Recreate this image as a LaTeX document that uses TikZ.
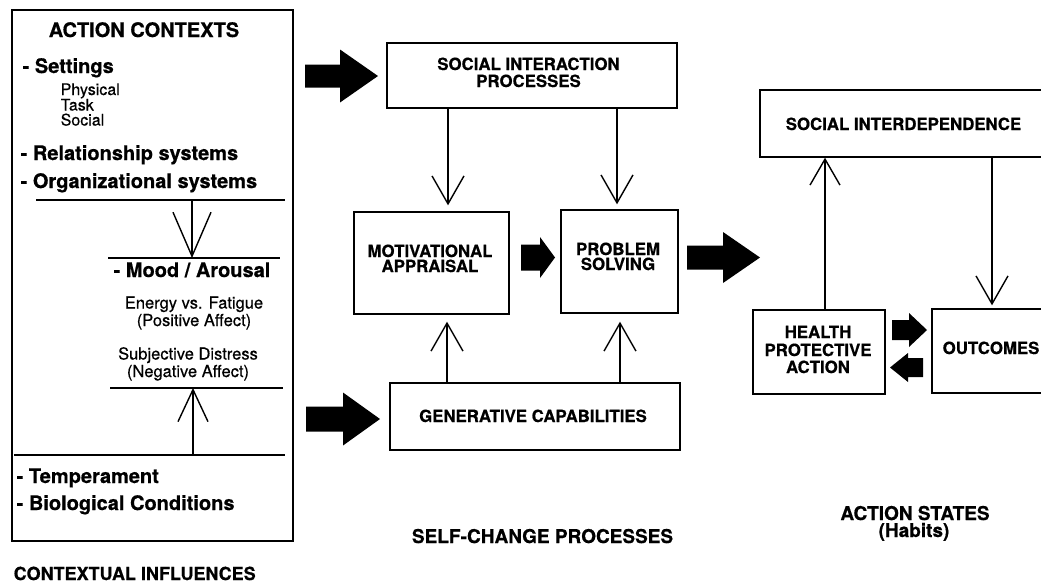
\documentclass[tikz,border=0pt]{standalone}
\usepackage{fontspec}
\setmainfont{TeX Gyre Heros}[BoldFeatures={FakeBold=0.6}]
\newfontfamily\medfont{TeX Gyre Heros}[FakeBold=0.5]
\usetikzlibrary{arrows.meta,calc}
\newcommand\fatarrow[6]{% x-start, x-head, x-tip, y-centre, body half, head half
  \fill (#1,#4-#5) -- (#2,#4-#5) -- (#2,#4-#6) -- (#3,#4) -- (#2,#4+#6) -- (#2,#4+#5) -- (#1,#4+#5) -- cycle;}
\begin{document}
\begin{tikzpicture}[x=1pt,y=-1pt,line width=1.4pt,
  box/.style={draw,rectangle,inner sep=0pt,line width=1.4pt},
  btxt/.style={font=\fontsize{16.8}{17}\selectfont\bfseries,inner sep=0pt,anchor=base},
  bul/.style={font=\fontsize{20}{20}\selectfont\bfseries,inner sep=0pt,anchor=base west},
  subitem/.style={font=\fontsize{16}{16}\selectfont\medfont,inner sep=0pt,anchor=base west},
  reg/.style={font=\fontsize{16.5}{16.5}\selectfont\medfont,inner sep=0pt,anchor=base},
  bottomlab/.style={font=\fontsize{19}{19}\selectfont\bfseries,inner sep=0pt,anchor=base},
  tarrow/.style={-{Straight Barb[length=28pt,width=32pt]},line width=1.4pt},
  tarrowbig/.style={-{Straight Barb[length=44pt,width=38pt]},line width=1.4pt},
  tarrowmid/.style={-{Straight Barb[length=32pt,width=30pt]},line width=1.4pt}]
\useasboundingbox (0,0) rectangle (1041,582);

% ---------- left box: contextual influences ----------
\node[box,minimum width=281pt,minimum height=531pt] (ctx) at (152.5,275.5) {};
\node[font=\fontsize{20}{20}\selectfont\bfseries,inner sep=0pt,anchor=base] (ctxt) at (144,37) {ACTION CONTEXTS};
\node[bul] (set) at (22,73) {- Settings};
\node[subitem] (phy) at (60,95) {Physical};
\node[subitem] (task) at (60,110.5) {Task};
\node[subitem] (soc) at (60,125.5) {Social};
\node[bul] (rel) at (20,160) {- Relationship systems};
\node[bul] (org) at (20,188) {- Organizational systems};
\coordinate (l1a) at (36,200);  \coordinate (l1b) at (285,200);
\coordinate (l2a) at (108,258); \coordinate (l2b) at (280,258);
\coordinate (l3a) at (110,388); \coordinate (l3b) at (283,388);
\coordinate (l4a) at (14,455);  \coordinate (l4b) at (285,455);
\draw (l1a) -- (l1b);
\draw (l2a) -- (l2b);
\draw (l3a) -- (l3b);
\draw (l4a) -- (l4b);
\coordinate (da) at (192,200); \coordinate (db) at (192,258);
\draw[tarrowbig] (da) -- (db);
\node[bul,anchor=base] (mood) at (192,277) {- Mood / Arousal};
\node[reg] (ene) at (194,308.5) {Energy vs. Fatigue};
\node[reg] (pos) at (194,326) {(Positive Affect)};
\node[reg] (sdis) at (188,359.5) {Subjective Distress};
\node[reg] (neg) at (188,377) {(Negative Affect)};
\coordinate (ua) at (193,455); \coordinate (ub) at (193,388);
\draw[tarrowmid] (ua) -- (ub);
\node[bul] (temp) at (16,483) {- Temperament};
\node[bul] (bio) at (16,510) {- Biological Conditions};
\node[font=\fontsize{18}{18}\selectfont\bfseries,inner sep=0pt,anchor=base west] (ci) at (13,580) {CONTEXTUAL INFLUENCES};

% ---------- middle: self-change processes ----------
\node[box,minimum width=290pt,minimum height=65pt] (sip) at (532,75.5) {};
\node[btxt] (sipt1) at (528.5,70) {SOCIAL INTERACTION};
\node[btxt] (sipt2) at (528.5,87) {PROCESSES};
\node[box,minimum width=155pt,minimum height=102pt] (mot) at (431.5,263) {};
\node[btxt] (mott1) at (430,257) {MOTIVATIONAL};
\node[btxt] (mott2) at (430,272) {APPRAISAL};
\node[box,minimum width=117pt,minimum height=103pt] (prob) at (619.5,261.5) {};
\node[btxt] (probt1) at (618,255) {PROBLEM};
\node[btxt] (probt2) at (618,270) {SOLVING};
\node[box,minimum width=290pt,minimum height=67pt] (gen) at (535,416.5) {};
\node[btxt] (gent) at (533,422) {GENERATIVE CAPABILITIES};
\node[bottomlab] (scp) at (542.5,543) {SELF-CHANGE PROCESSES};

\coordinate (m1) at (448,0); \coordinate (m2) at (617,0);
\coordinate (g1) at (447,0); \coordinate (g2) at (620,0);
\draw[tarrow,shorten >=6pt] (sip.south -| m1) -- (mot.north -| m1);
\draw[tarrow,shorten >=5pt] (sip.south -| m2) -- (prob.north -| m2);
\draw[tarrow,shorten >=7pt] (gen.north -| g1) -- (mot.south -| g1);
\draw[tarrow,shorten >=8pt] (gen.north -| g2) -- (prob.south -| g2);

% ---------- right: action states ----------
\node[box,minimum width=300pt,minimum height=67pt] (sid) at (910,123.5) {};
\node[btxt] (sidt) at (903.5,130) {SOCIAL INTERDEPENDENCE};
\node[box,minimum width=132pt,minimum height=84pt] (hpa) at (819,352) {};
\node[btxt] (hpat1) at (818,338) {HEALTH};
\node[btxt] (hpat2) at (818,356) {PROTECTIVE};
\node[btxt] (hpat3) at (818,373) {ACTION};
\node[box,minimum width=138pt,minimum height=84pt] (out) at (1001,351) {};
\node[btxt,anchor=base west] (outt) at (942,354) {OUTCOMES};
\node[bottomlab] (as) at (915,520) {ACTION STATES};
\node[bottomlab] (hab) at (914,537) {(Habits)};

\coordinate (ux) at (825,0); \coordinate (dx) at (992,0);
\draw[-{Straight Barb[length=26pt,width=30pt]},line width=1.4pt] (hpa.north -| ux) -- (sid.south -| ux);
\draw[tarrow,shorten >=3pt] (sid.south -| dx) -- (out.north -| dx);

% ---------- fat arrows ----------
\fatarrow{305}{340}{378}{76}{11.5}{26.5}
\fatarrow{306}{343}{380}{419}{12.5}{26.5}
\fatarrow{521}{540}{555}{257.5}{13}{20.5}
\fatarrow{687}{723}{760}{257.5}{12}{25.5}
\fatarrow{892}{909}{927}{330}{10}{17}
\fatarrow{923}{908}{890}{367.5}{9.5}{14.5}
\end{tikzpicture}
\end{document}
